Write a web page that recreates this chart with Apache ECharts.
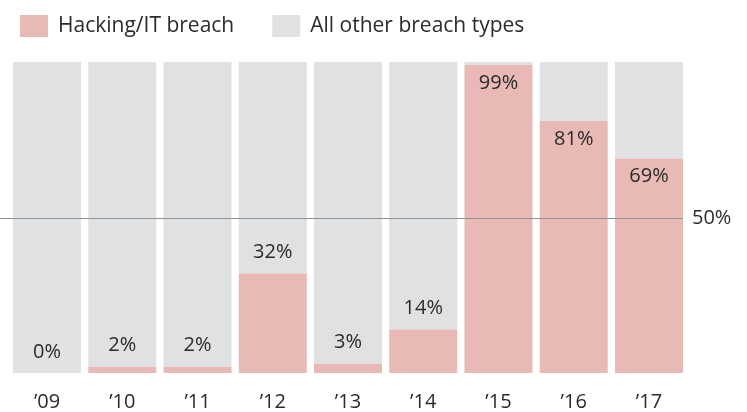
<!DOCTYPE html>
<html>
<head>
<meta charset="utf-8">
<script src="https://cdn.jsdelivr.net/npm/echarts@6/dist/echarts.min.js"></script>
<style>html,body{margin:0;padding:0;background:#fff}#c{width:747px;height:412px}</style>
</head>
<body>
<div id="c"></div>
<script>
const categories = ["\u201909","\u201910","\u201911","\u201912","\u201913","\u201914","\u201915","\u201916","\u201917"];
const hacking = [0, 2, 2, 32, 3, 14, 99, 81, 69];
const otherTypes = [100, 98, 98, 68, 97, 86, 1, 19, 31];
const refValue = 50;

const FONT = "'Open Sans', Lato, sans-serif";
const PINK = "#E8B9B5";
const GRAY = "#E0E1E3";

const chart = echarts.init(document.getElementById('c'));
chart.setOption({
  animation: false,
  textStyle: { fontFamily: FONT },
  legend: {
    left: 15, top: 10,
    icon: 'rect',
    itemWidth: 28, itemHeight: 22,
    itemGap: 38,
    textStyle: { fontSize: 21, color: '#2b2b2b', fontFamily: FONT, padding: [0, 0, 0, 5] },
    data: ["Hacking/IT breach", "All other breach types"]
  },
  grid: { left: 9.4, right: 60.4, top: 62, bottom: 39 },
  xAxis: {
    type: 'category', data: categories,
    axisLine: { show: false }, axisTick: { show: false },
    axisLabel: { fontSize: 20, color: '#2b2b2b', margin: 19, fontFamily: FONT }
  },
  yAxis: { type: 'value', min: 0, max: 100, show: false, splitLine: { show: false } },
  series: [
    {
      name: "Hacking/IT breach", type: 'bar', stack: 'a',
      data: hacking.map(v => ({
        value: v,
        label: v > 50
          ? { show: true, position: 'insideTop', distance: 8 }
          : { show: true, position: 'top', distance: 11 }
      })),
      itemStyle: { color: PINK },
      barCategoryGap: '9.6%',
      label: { formatter: '{c}%', fontSize: 20, color: '#2b2b2b', fontFamily: FONT },
      z: 2
    },
    {
      name: "All other breach types", type: 'bar', stack: 'a',
      data: otherTypes,
      itemStyle: { color: GRAY },
      barCategoryGap: '9.6%',
      z: 1
    }
  ]
});

// 50% reference line, positioned through the value axis
const yRef = Math.round(chart.convertToPixel({ yAxisIndex: 0 }, refValue)) + 0.5;
const lastX = chart.convertToPixel({ xAxisIndex: 0 }, categories[categories.length - 1]);
chart.setOption({
  graphic: [
    { type: 'line', z: 10, shape: { x1: 0, y1: yRef, x2: lastX + 34, y2: yRef },
      style: { stroke: '#8f9396', lineWidth: 1 } },
    { type: 'text', z: 10, x: lastX + 43, y: yRef,
      style: { text: refValue + '%', font: "20px " + FONT, fill: '#2b2b2b', verticalAlign: 'middle' } }
  ]
});
</script>
</body>
</html>
